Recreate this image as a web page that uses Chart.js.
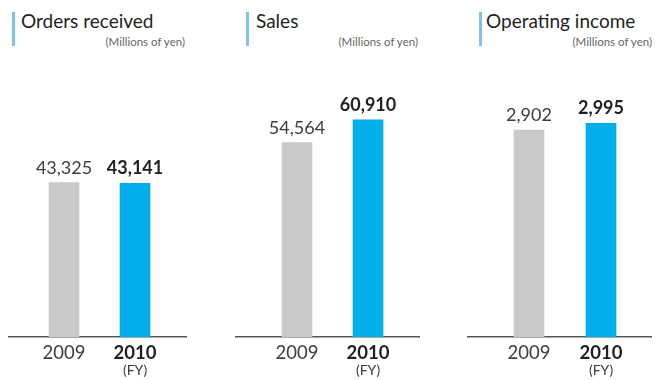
<!DOCTYPE html>
<html>
<head>
<meta charset="utf-8">
<script src="https://cdn.jsdelivr.net/npm/chart.js@4.4.0/dist/chart.umd.min.js"></script>
<style>
    body { margin: 0; background: #fff; }
    #stage { position: relative; width: 666px; height: 380px; overflow: hidden; font-family: Lato, sans-serif; }
    .accent { position: absolute; top: 12px; width: 3px; height: 34px; background: #7fc3ea; }
    .title { position: absolute; top: 8px; font-size: 19px; line-height: 26px; color: #231f20; white-space: nowrap; }
    .unit { position: absolute; top: 35px; font-size: 11.5px; line-height: 14px; color: #666; white-space: nowrap; text-align: right; }
    canvas { position: absolute; top: 60px; }
</style>
</head>
<body>
<div id="stage"></div>
<script>
//data
const YEARS = ['2009', '2010'];
const ORDERS = [43325, 43141];
const SALES = [54564, 60910];
const OPERATING_INCOME = [2902, 2995];
const TITLES = ['Orders received', 'Sales', 'Operating income'];
const UNIT_LABEL = '(Millions of yen)';
const FY_LABEL = '(FY)';

const COLORS = ['#c8c9ca', '#00aeeb'];
const TEXT_COLORS = ['#3d3d3d', '#231f20'];
const FONT = 'Lato, sans-serif';

//where every panel sits on the page
const PANEL_LAYOUT = [
    {accent_x: 12, title_x: 21, unit_right: 185, axis_left: 8, axis_width: 179, x_min: -0.789, x_max: 1.732, y_max: 66500},
    {accent_x: 246, title_x: 256, unit_right: 418, axis_left: 235, axis_width: 185, x_min: -0.873, x_max: 1.732, y_max: 66500},
    {accent_x: 479, title_x: 486, unit_right: 652, axis_left: 467, axis_width: 185, x_min: -0.861, x_max: 1.708, y_max: 3322}
];

const SERIES = [ORDERS, SALES, OPERATING_INCOME];

//values written over the bars
const value_labels = {
    id: 'value_labels',
    afterDatasetsDraw(chart){
        let ctx = chart.ctx;
        let bars = chart.getDatasetMeta(0).data;
        let values = chart.data.datasets[0].data;
        ctx.save();
        ctx.textAlign = 'center';
        ctx.textBaseline = 'alphabetic';
        bars.forEach((bar, i) => {
            ctx.font = (i == 1 ? 'bold ' : '') + '18px ' + FONT;
            ctx.fillStyle = TEXT_COLORS[i];
            ctx.fillText(values[i].y.toLocaleString('en-US'), bar.x, bar.y - 9);
        });
        ctx.restore();
    }
};

//"(FY)" under the last year
const fy_label = {
    id: 'fy_label',
    afterDraw(chart){
        let ctx = chart.ctx;
        let x_scale = chart.scales.x;
        ctx.save();
        ctx.font = '14px ' + FONT;
        ctx.fillStyle = TEXT_COLORS[0];
        ctx.textAlign = 'center';
        ctx.textBaseline = 'alphabetic';
        ctx.fillText(FY_LABEL, x_scale.getPixelForValue(YEARS.length - 1), chart.chartArea.bottom + 38);
        ctx.restore();
    }
};

function build_header(stage, layout, title){
    let accent = document.createElement('div');
    accent.className = 'accent';
    accent.style.left = layout.accent_x + 'px';

    let title_el = document.createElement('div');
    title_el.className = 'title';
    title_el.style.left = layout.title_x + 'px';
    title_el.textContent = title;

    let unit = document.createElement('div');
    unit.className = 'unit';
    unit.style.right = (666 - layout.unit_right) + 'px';
    unit.textContent = UNIT_LABEL;

    stage.append(accent, title_el, unit);
}

function build_chart(stage, layout, values){
    let canvas = document.createElement('canvas');
    canvas.width = layout.axis_width;
    canvas.height = 320;
    canvas.style.left = layout.axis_left + 'px';
    canvas.style.width = layout.axis_width + 'px';
    canvas.style.height = '320px';
    stage.append(canvas);

    const data = {
        datasets: [{
            data: YEARS.map((year, i) => ({x: i, y: values[i]})),
            backgroundColor: COLORS,
            barThickness: 30
        }]
    };
    const config = {
        type: 'bar',
        data: data,
        options: {
            responsive: false,
            animation: false,
            layout: {padding: {top: 40, bottom: 0, left: 0, right: 0}},
            plugins: {legend: {display: false}, tooltip: {enabled: false}},
            scales: {
                x: {
                    type: 'linear',
                    offset: false,
                    min: layout.x_min,
                    max: layout.x_max,
                    afterBuildTicks: scale => { scale.ticks = YEARS.map((year, i) => ({value: i})); },
                    //keep the baseline at the same height in every panel
                    afterFit: scale => { scale.height = 43; },
                    grid: {display: false, drawTicks: false, offset: false},
                    border: {display: true, color: '#555', width: 1.6},
                    ticks: {
                        autoSkip: false,
                        maxRotation: 0,
                        padding: 5,
                        callback: value => YEARS[value],
                        color: c => TEXT_COLORS[c.index],
                        font: c => ({family: FONT, size: 18.5, weight: c.index == 1 ? 'bold' : 'normal'})
                    }
                },
                y: {display: false, min: 0, max: layout.y_max}
            }
        },
        plugins: [value_labels, fy_label]
    };
    new Chart(canvas, config);
}

let stage = document.getElementById('stage');
PANEL_LAYOUT.forEach((layout, i) => {
    build_header(stage, layout, TITLES[i]);
    build_chart(stage, layout, SERIES[i]);
});
</script>
</body>
</html>
